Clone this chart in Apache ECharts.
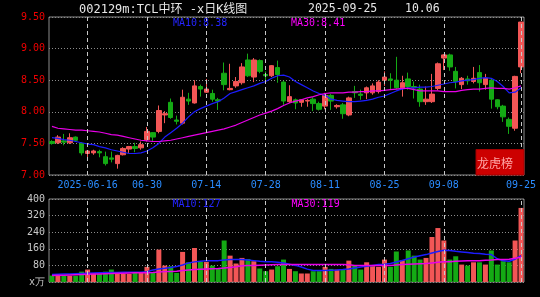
<!DOCTYPE html>
<html><head><meta charset="utf-8">
<script src="https://cdn.jsdelivr.net/npm/echarts@6/dist/echarts.min.js"></script>
<style>html,body{margin:0;padding:0;background:#000;}#c{width:540px;height:297px;}</style>
</head><body><div id="c"></div>
<script>
const dates = ['2025-06-06','2025-06-09','2025-06-10','2025-06-11','2025-06-12','2025-06-13','2025-06-16','2025-06-17','2025-06-18','2025-06-19','2025-06-20','2025-06-23','2025-06-24','2025-06-25','2025-06-26','2025-06-27','2025-06-30','2025-07-01','2025-07-02','2025-07-03','2025-07-04','2025-07-07','2025-07-08','2025-07-09','2025-07-10','2025-07-11','2025-07-14','2025-07-15','2025-07-16','2025-07-17','2025-07-18','2025-07-21','2025-07-22','2025-07-23','2025-07-24','2025-07-25','2025-07-28','2025-07-29','2025-07-30','2025-07-31','2025-08-01','2025-08-04','2025-08-05','2025-08-06','2025-08-07','2025-08-08','2025-08-11','2025-08-12','2025-08-13','2025-08-14','2025-08-15','2025-08-18','2025-08-19','2025-08-20','2025-08-21','2025-08-22','2025-08-25','2025-08-26','2025-08-27','2025-08-28','2025-08-29','2025-09-01','2025-09-02','2025-09-03','2025-09-04','2025-09-05','2025-09-08','2025-09-09','2025-09-10','2025-09-11','2025-09-12','2025-09-15','2025-09-16','2025-09-17','2025-09-18','2025-09-19','2025-09-22','2025-09-23','2025-09-24','2025-09-25'];
const opens  = [7.53,7.51,7.54,7.51,7.60,7.50,7.34,7.35,7.37,7.29,7.27,7.18,7.32,7.41,7.45,7.43,7.56,7.67,7.69,7.95,8.15,7.87,7.82,8.20,8.14,8.40,8.31,8.29,8.19,8.61,8.35,8.41,8.46,8.82,8.55,8.81,8.59,8.57,8.70,8.47,8.16,8.19,8.15,8.17,8.20,8.13,8.09,8.26,8.08,8.11,7.95,8.32,8.28,8.30,8.30,8.32,8.50,8.52,8.50,8.38,8.52,8.40,8.36,8.16,8.16,8.37,8.85,8.90,8.64,8.43,8.52,8.48,8.62,8.43,8.50,8.19,8.09,7.88,7.74,8.71];
const closes = [7.50,7.60,7.52,7.59,7.55,7.35,7.38,7.38,7.35,7.18,7.25,7.31,7.42,7.45,7.42,7.48,7.69,7.60,8.02,7.97,7.91,7.85,8.23,8.17,8.41,8.36,8.36,8.20,8.17,8.43,8.37,8.48,8.71,8.57,8.82,8.64,8.57,8.73,8.59,8.17,8.24,8.14,8.19,8.18,8.13,8.04,8.26,8.17,8.10,7.97,8.22,8.30,8.26,8.38,8.41,8.47,8.55,8.50,8.38,8.46,8.40,8.38,8.16,8.20,8.28,8.76,8.90,8.71,8.48,8.53,8.49,8.53,8.46,8.53,8.20,8.08,7.92,7.77,8.56,9.42];
const lows   = [7.48,7.49,7.47,7.49,7.54,7.31,7.26,7.32,7.28,7.15,7.20,7.10,7.31,7.35,7.36,7.40,7.53,7.53,7.66,7.82,7.89,7.80,7.80,8.11,8.13,8.24,8.30,8.16,8.03,8.34,8.34,8.38,8.43,8.55,8.47,8.61,8.48,8.55,8.46,8.11,8.14,8.04,8.08,8.08,8.01,8.02,8.04,8.03,8.05,7.89,7.93,8.22,8.19,8.20,8.27,8.29,8.41,8.35,8.36,8.24,8.35,8.21,8.08,8.11,8.14,8.34,8.66,8.65,8.37,8.36,8.43,8.45,8.32,8.35,8.05,8.04,7.84,7.65,7.70,8.61];
const highs  = [7.55,7.63,7.65,7.66,7.61,7.52,7.39,7.40,7.40,7.37,7.37,7.32,7.44,7.46,7.51,7.53,7.76,7.68,8.10,8.01,8.21,7.94,8.35,8.30,8.50,8.43,8.52,8.35,8.22,8.78,8.76,8.55,8.77,8.92,8.85,8.83,8.64,8.74,8.81,8.49,8.42,8.21,8.20,8.20,8.23,8.16,8.30,8.28,8.12,8.14,8.24,8.41,8.35,8.40,8.45,8.50,8.64,8.61,8.87,8.57,8.62,8.48,8.43,8.40,8.60,8.78,8.91,8.92,8.71,8.55,8.57,8.71,8.74,8.60,8.53,8.20,8.11,7.91,8.57,9.42];
const volumes = [31,30,30,30,30,50,60,39,39,50,60,39,39,39,47,47,73,47,156,79,76,44,145,95,164,98,97,79,65,200,127,89,116,111,100,65,52,60,76,108,63,52,41,41,52,52,73,63,60,60,103,79,60,95,76,73,108,73,147,105,152,127,108,116,217,260,200,108,124,84,79,95,95,84,152,84,100,95,200,357];
const ma10 = [7.59,7.58,7.56,7.55,7.53,7.51,7.49,7.48,7.45,7.43,7.40,7.38,7.36,7.34,7.34,7.35,7.38,7.43,7.50,7.60,7.67,7.74,7.82,7.92,8.00,8.05,8.09,8.13,8.16,8.22,8.29,8.32,8.35,8.38,8.41,8.45,8.48,8.53,8.57,8.58,8.55,8.48,8.43,8.38,8.33,8.29,8.26,8.20,8.18,8.17,8.16,8.16,8.17,8.18,8.20,8.23,8.25,8.29,8.33,8.36,8.38,8.38,8.39,8.39,8.40,8.42,8.44,8.46,8.47,8.49,8.50,8.51,8.53,8.54,8.53,8.48,8.40,8.30,8.31,8.38];
const ma30 = [7.77,7.74,7.73,7.72,7.71,7.71,7.70,7.69,7.68,7.66,7.64,7.63,7.61,7.59,7.57,7.55,7.54,7.53,7.53,7.54,7.55,7.57,7.59,7.61,7.63,7.65,7.67,7.69,7.71,7.73,7.76,7.79,7.83,7.87,7.91,7.95,7.98,8.01,8.05,8.10,8.14,8.17,8.19,8.22,8.24,8.27,8.29,8.30,8.30,8.30,8.31,8.31,8.32,8.32,8.33,8.33,8.34,8.35,8.36,8.37,8.37,8.35,8.33,8.33,8.33,8.33,8.32,8.32,8.32,8.34,8.35,8.36,8.36,8.37,8.38,8.37,8.37,8.36,8.38,8.41];
const volMa10 = [36,37,38,39,40,41,42,43,44,45,46,46,47,47,47,47,50,58,63,66,70,75,82,92,97,100,103,103,103,106,108,108,108,106,103,100,98,97,95,92,86,80,72,62,55,55,55,57,58,60,63,68,72,76,80,84,86,89,96,104,112,120,127,132,140,147,153,152,148,145,142,139,137,134,132,112,102,100,110,127];
const volMa30 = [31,32,33,34,35,36,37,38,39,40,41,42,42,43,44,44,45,46,48,50,51,52,55,58,60,62,63,64,65,67,70,73,78,79,80,81,82,83,84,84,84,84,84,84,84,84,84,84,84,84,83,80,79,79,79,79,79,79,82,84,86,87,88,89,92,95,97,98,100,101,102,103,103,105,106,108,109,110,114,119];
const labelDates = ['2025-06-16','2025-06-30','2025-07-14','2025-07-28','2025-08-11','2025-08-25','2025-09-08','2025-09-25'];
const priceTicks = {min: 7.0, max: 9.5, step: 0.5};
const volTicks = {min: 0, max: 400, step: 80};

const UP = '#f25656', DOWN = '#14aa14';
const MONO = '"DejaVu Sans Mono", monospace';
const chart = echarts.init(document.getElementById('c'), null, {renderer: 'canvas'});
const gridStyle = {show: true, borderColor: '#8c8c8c', borderWidth: 1, backgroundColor: 'transparent'};
const markLineCfg = {
  silent: true, symbol: ['none', 'none'], label: {show: false},
  lineStyle: {color: '#c8c8c8', type: [4, 3], width: 1},
  data: labelDates.map(d => ({xAxis: d}))
};
const labelSet = new Set(labelDates);
chart.setOption({
  backgroundColor: '#000',
  animation: false,
  grid: [
    Object.assign({left: 49, top: 17, width: 475, height: 158}, gridStyle),
    Object.assign({left: 49, top: 199, width: 475, height: 83}, gridStyle)
  ],
  xAxis: [
    {type: 'category', gridIndex: 0, data: dates, boundaryGap: true,
     axisLine: {show: false}, axisTick: {show: false}, splitLine: {show: false},
     axisLabel: {
       interval: (i, v) => labelSet.has(v), margin: 5, color: '#2a8cff', fontFamily: MONO, fontSize: 10,
       formatter: (v) => v === labelDates[0] ? v : v.slice(5)
     }},
    {type: 'category', gridIndex: 1, data: dates, boundaryGap: true,
     axisLine: {show: false}, axisTick: {show: false}, splitLine: {show: false}, axisLabel: {show: false}}
  ],
  yAxis: [
    {type: 'value', gridIndex: 0, min: priceTicks.min, max: priceTicks.max, interval: priceTicks.step,
     axisLine: {show: false}, axisTick: {show: false},
     axisLabel: {color: '#f00000', fontFamily: MONO, fontSize: 10, margin: 4, formatter: v => v.toFixed(2)},
     splitLine: {show: true, lineStyle: {color: '#8c8c8c', type: [1, 2], width: 1}}},
    {type: 'value', gridIndex: 1, min: volTicks.min, max: volTicks.max, interval: volTicks.step,
     axisLine: {show: false}, axisTick: {show: false},
     axisLabel: {color: '#c8c8c8', fontFamily: MONO, fontSize: 10, margin: 4, formatter: v => v === 0 ? 'x万' : String(v)},
     splitLine: {show: true, lineStyle: {color: '#8c8c8c', type: [1, 2], width: 1}}}
  ],
  series: [
    {type: 'line', xAxisIndex: 0, yAxisIndex: 0, data: [], z: 1, markLine: markLineCfg},
    {type: 'line', xAxisIndex: 1, yAxisIndex: 1, data: [], z: 1, markLine: markLineCfg},
    {type: 'candlestick', xAxisIndex: 0, yAxisIndex: 0, z: 2, barWidth: 5,
     data: dates.map((d, i) => [opens[i], closes[i], lows[i], highs[i]]),
     itemStyle: {color: UP, color0: DOWN, borderColor: UP, borderColor0: DOWN, borderWidth: 1}},
    {type: 'line', xAxisIndex: 0, yAxisIndex: 0, data: ma10, z: 3, symbol: 'none',
     lineStyle: {color: '#1c1cff', width: 1.2}},
    {type: 'line', xAxisIndex: 0, yAxisIndex: 0, data: ma30, z: 3, symbol: 'none',
     lineStyle: {color: '#e800e8', width: 1.2}},
    {type: 'bar', xAxisIndex: 1, yAxisIndex: 1, z: 2, barWidth: 5,
     data: volumes.map((v, i) => ({value: v, itemStyle: {color: closes[i] >= opens[i] ? UP : DOWN}}))},
    {type: 'line', xAxisIndex: 1, yAxisIndex: 1, data: volMa10, z: 3, symbol: 'none',
     lineStyle: {color: '#1c1cff', width: 1.5}},
    {type: 'line', xAxisIndex: 1, yAxisIndex: 1, data: volMa30, z: 3, symbol: 'none',
     lineStyle: {color: '#e800e8', width: 1.5}}
  ],
  graphic: [
    {type: 'text', x: 79, y: 9.5, z: 10, style: {text: '002129m:TCL中环 -x日K线图', fill: '#e6e6e6', font: '12px "DejaVu Sans Mono", "Noto Sans CJK SC"', verticalAlign: 'middle'}},
    {type: 'text', x: 308, y: 9.5, z: 10, style: {text: '2025-09-25', fill: '#e6e6e6', font: '11.5px "DejaVu Sans Mono"', verticalAlign: 'middle'}},
    {type: 'text', x: 405, y: 9.5, z: 10, style: {text: '10.06', fill: '#e6e6e6', font: '11.5px "DejaVu Sans Mono"', verticalAlign: 'middle'}},
    {type: 'text', x: 173, y: 23.5, z: 10, style: {text: 'MA10:8.38', fill: '#2424ff', font: '10px "DejaVu Sans Mono"', verticalAlign: 'middle'}},
    {type: 'text', x: 291, y: 23.5, z: 10, style: {text: 'MA30:8.41', fill: '#ff00ff', font: '10px "DejaVu Sans Mono"', verticalAlign: 'middle'}},
    {type: 'text', x: 172.5, y: 204, z: 10, style: {text: 'MA10:127', fill: '#2424ff', font: '10px "DejaVu Sans Mono"', verticalAlign: 'middle'}},
    {type: 'text', x: 291.5, y: 204, z: 10, style: {text: 'MA30:119', fill: '#ff00ff', font: '10px "DejaVu Sans Mono"', verticalAlign: 'middle'}},
    {type: 'rect', z: 10, shape: {x: 476, y: 149.5, width: 48, height: 25.5}, style: {fill: '#cc0000', stroke: '#a00000', lineWidth: 1}},
    {type: 'text', x: 477, y: 163, z: 11, style: {text: '龙虎榜', fill: '#ffa8a8', font: '12px "Noto Sans CJK SC"', verticalAlign: 'middle'}}
  ]
});
</script>
</body></html>
